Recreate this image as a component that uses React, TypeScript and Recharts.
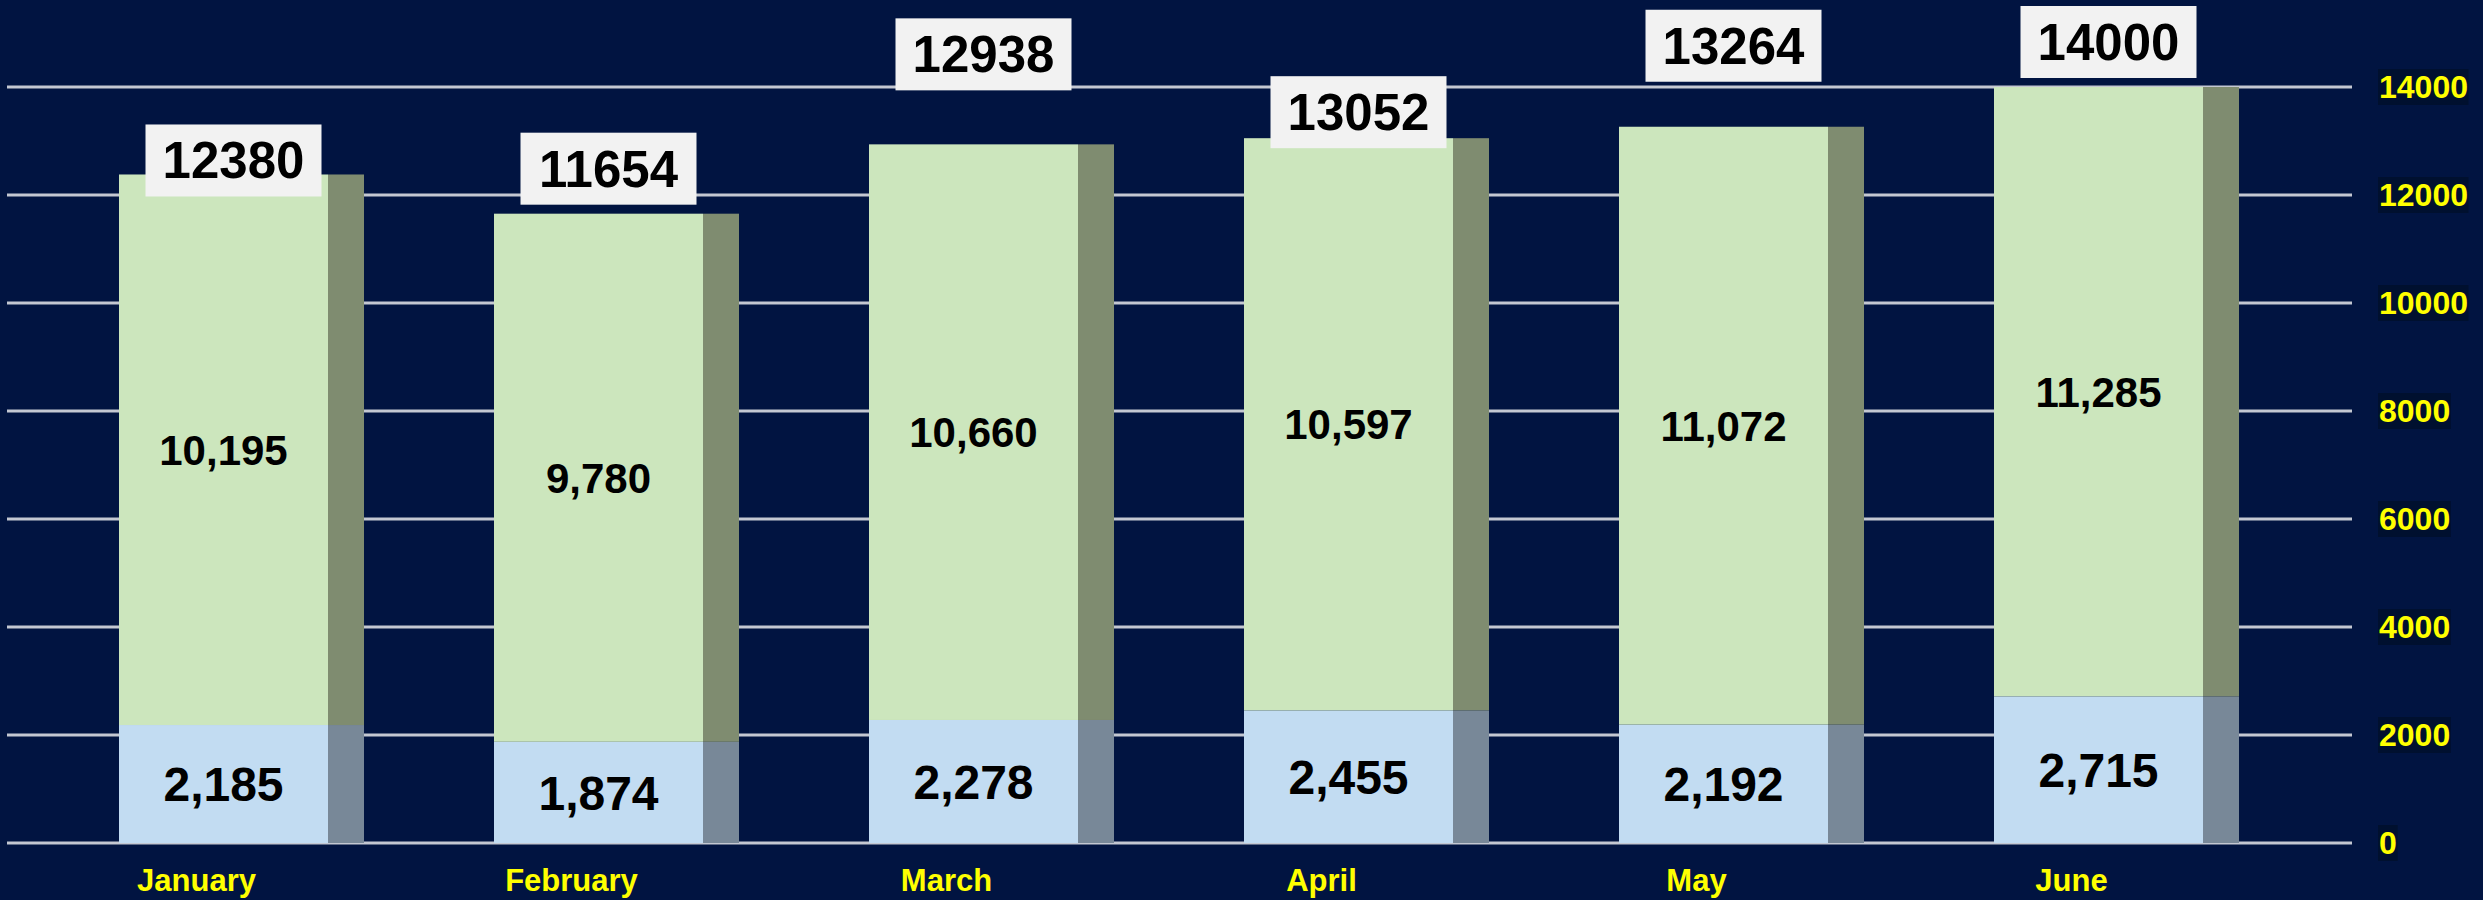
import { BarChart, Bar, XAxis, YAxis, CartesianGrid, LabelList } from "recharts";

const MONTHS = ["January", "February", "March", "April", "May", "June"];
const BASE = [2185, 1874, 2278, 2455, 2192, 2715];
const UPPER = [10195, 9780, 10660, 10597, 11072, 11285];
const TOTALS = [12380, 11654, 12938, 13052, 13264, 14000];
const Y_TICKS = [0, 2000, 4000, 6000, 8000, 10000, 12000, 14000];

// how far each total box sits above its bar top (hand placed in the original)
const TOTAL_LIFT = [14, 45, 90, 26, 81, 45];

const data = MONTHS.map((month, i) => ({
  month,
  base: BASE[i],
  upper: UPPER[i],
  total: TOTALS[i],
}));

const FONT = "'Liberation Sans', Arial, sans-serif";
const BG = "#011441";
const SIDE = 36;

const fmt = (v: number) => v.toLocaleString("en-US");

// front face + darker right side, fake 3D look
const sideBar = (front: string, side: string) => (props: any) => {
  const { x, y, width, height } = props;
  if (!height) return <g />;
  return (
    <g>
      <rect x={x} y={y} width={width - SIDE} height={height} fill={front} />
      <rect x={x + width - SIDE} y={y} width={SIDE} height={height} fill={side} />
    </g>
  );
};

const segmentLabel = (size: number) => (props: any) => {
  const { x, y, width, height, value } = props;
  const cx = x + (width - SIDE) / 2;
  const cy = y + height / 2;
  return (
    <text
      x={cx}
      y={cy + size * 0.36}
      textAnchor="middle"
      fontFamily={FONT}
      fontWeight="bold"
      fontSize={size}
      fill="#000"
    >
      {fmt(value)}
    </text>
  );
};

const TotalLabel = (props: any) => {
  const { x, y, width, value, index } = props;
  const cx = x + (width - SIDE) / 2 + 10;
  const cy = y - TOTAL_LIFT[index];
  return (
    <g>
      <rect x={cx - 88} y={cy - 36} width={176} height={72} fill="#f2f2f2" />
      <text
        x={cx}
        y={cy + 18}
        textAnchor="middle"
        fontFamily={FONT}
        fontWeight="bold"
        fontSize={51}
        fill="#000"
      >
        {value}
      </text>
    </g>
  );
};

const MonthTick = (props: any) => {
  const { x, y, payload } = props;
  return (
    <text
      x={x - 45}
      y={y + 48}
      textAnchor="middle"
      fontFamily={FONT}
      fontWeight="bold"
      fontSize={31}
      fill="#ffff00"
    >
      {payload.value}
    </text>
  );
};

const ValueTick = (props: any) => {
  const { x, y, payload } = props;
  const w = String(payload.value).length * 17.7;
  return (
    <g>
      <rect x={x + 26} y={y - 18} width={w + 2} height={36} fill="#00102f" />
      <text
        x={x + 27}
        y={y + 11}
        textAnchor="start"
        fontFamily={FONT}
        fontWeight="bold"
        fontSize={32}
        fill="#ffff00"
      >
        {payload.value}
      </text>
    </g>
  );
};

export default function App() {
  return (
    <div
      style={{
        position: "absolute",
        left: 0,
        top: 0,
        width: 2483,
        height: 900,
        background: BG,
      }}
    >
      <BarChart
        width={2483}
        height={900}
        data={data}
        margin={{ top: 87, right: 0, left: 7, bottom: 0 }}
        barSize={245}
      >
        <CartesianGrid vertical={false} stroke="#c4c8d2" strokeWidth={3} />
        <XAxis
          dataKey="month"
          height={57}
          padding={{ left: 47, right: 48 }}
          axisLine={false}
          tickLine={false}
          tickSize={0}
          tickMargin={0}
          tick={<MonthTick />}
          interval={0}
        />
        <YAxis
          orientation="right"
          width={131}
          domain={[0, 14000]}
          ticks={Y_TICKS}
          axisLine={false}
          tickLine={false}
          tickSize={0}
          tickMargin={0}
          tick={<ValueTick />}
        />
        <Bar
          dataKey="base"
          stackId="a"
          shape={sideBar("#c2dcf2", "#788898")}
          isAnimationActive={false}
        >
          <LabelList dataKey="base" content={segmentLabel(48)} />
        </Bar>
        <Bar
          dataKey="upper"
          stackId="a"
          shape={sideBar("#cce6bd", "#7f8c70")}
          isAnimationActive={false}
        >
          <LabelList dataKey="upper" content={segmentLabel(42)} />
          <LabelList dataKey="total" content={<TotalLabel />} />
        </Bar>
      </BarChart>
    </div>
  );
}
